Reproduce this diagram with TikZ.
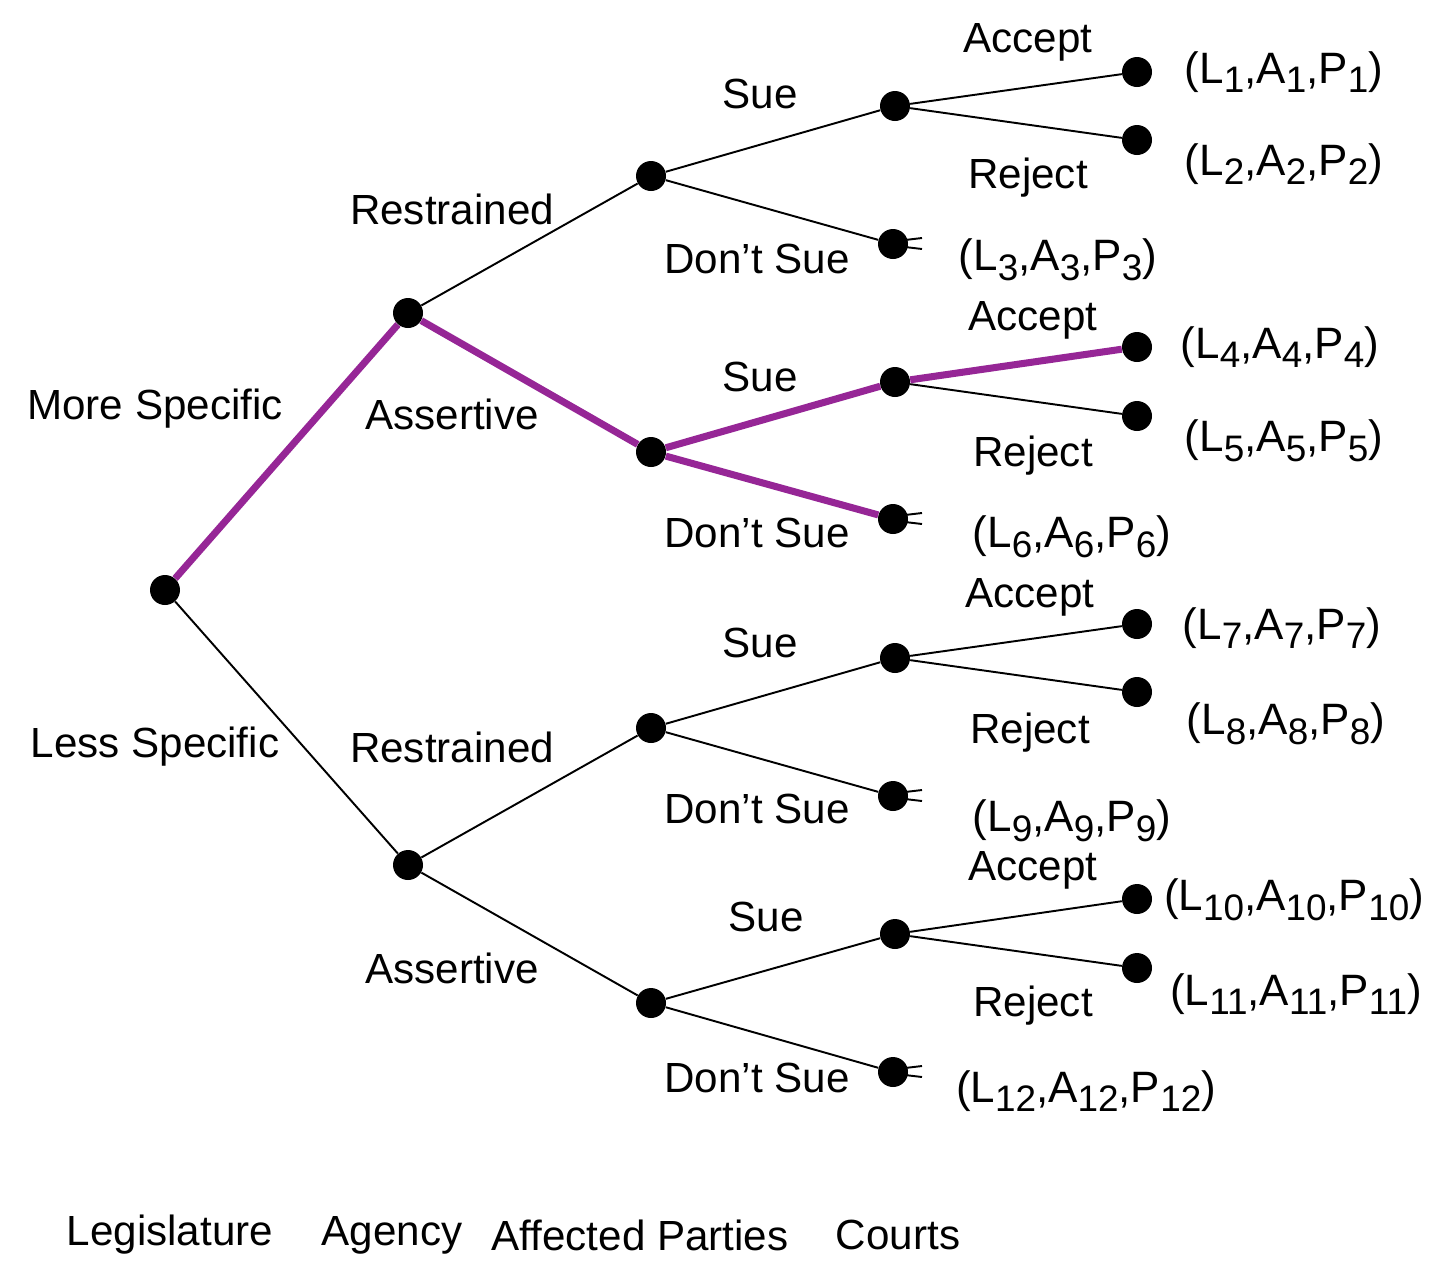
\documentclass[tikz,border=0pt]{standalone}
\usepackage{fontspec}
\setmainfont{Liberation Sans}
\usepackage{tikz}
\definecolor{pathpurple}{RGB}{150,38,150}
\newcommand{\lowsub}[1]{\raisebox{-5.5pt}{\fontsize{21}{24}\selectfont #1}}
\newcommand{\payoff}[1]{(L\lowsub{#1},A\lowsub{#1},P\lowsub{#1})}

\begin{document}
\begin{tikzpicture}[x=0.02cm,y=-0.02cm,
  every node/.style={font=\fontsize{24}{28}\selectfont},
  dot/.style={circle,fill=black,inner sep=0pt,minimum size=0.6cm},
  edge/.style={line width=1.1pt},
  chosen/.style={line width=4pt,pathpurple},
  outcome/.style={font=\fontsize{25}{28}\selectfont}]
  \useasboundingbox (0,0) rectangle (1456,1286);

  % decision nodes
  \node[dot] (root) at (165,590) {};
  \node[dot] (a1) at (408,313) {};
  \node[dot] (a2) at (408,865) {};
  \node[dot] (p1) at (651,176) {};
  \node[dot] (p2) at (651,452) {};
  \node[dot] (p3) at (651,728) {};
  \node[dot] (p4) at (651,1003) {};
  \node[dot] (c1) at (895,106) {};
  \node[dot] (c2) at (895,382) {};
  \node[dot] (c3) at (895,658) {};
  \node[dot] (c4) at (895,934) {};
  \node[dot] (d1) at (893,244) {};
  \node[dot] (d2) at (893,519) {};
  \node[dot] (d3) at (893,796) {};
  \node[dot] (d4) at (893,1072) {};
  \node[dot] (t1) at (1137,72) {};
  \node[dot] (t2) at (1137,140) {};
  \node[dot] (t4) at (1137,347) {};
  \node[dot] (t5) at (1137,416) {};
  \node[dot] (t7) at (1137,624) {};
  \node[dot] (t8) at (1137,692) {};
  \node[dot] (t10) at (1137,899) {};
  \node[dot] (t11) at (1137,968) {};

  \foreach \from/\to in {root/a2,a1/p1,a2/p3,a2/p4,p1/c1,p1/d1,p2/c2,c2/t5,
      p3/c3,p3/d3,p4/c4,p4/d4,c1/t1,c1/t2,c3/t7,c3/t8,c4/t10,c4/t11}
    \draw[edge] (\from) -- (\to);

  % equilibrium path
  \foreach \from/\to in {root/a1,a1/p2,p2/c2,c2/t4,p2/d2}
    \draw[chosen] (\from) -- (\to);

  \foreach \d in {d1,d2,d3,d4} {
    \draw[edge] (\d) ++(12,-4) -- ++(17,-2);
    \draw[edge] (\d) ++(12,3) -- ++(17,2);
  }

  % move labels
  \node (ms) at (155,409) {More Specific};
  \node (ls) at (155,747) {Less Specific};
  \node (r1) at (452,209) {Restrained};
  \node (s1) at (452,414) {Assertive};
  \node (r2) at (452,747) {Restrained};
  \node (s2) at (452,968) {Assertive};
  \node (su1) at (760,94) {Sue};
  \node (ds1) at (757,259) {Don’t Sue};
  \node (su2) at (760,377) {Sue};
  \node (ds2) at (757,533) {Don’t Sue};
  \node (su3) at (760,643) {Sue};
  \node (ds3) at (757,809) {Don’t Sue};
  \node (su4) at (766,917) {Sue};
  \node (ds4) at (757,1078) {Don’t Sue};
  \node (ac1) at (1028,42) {Accept};
  \node (rj1) at (1028,178) {Reject};
  \node (ac2) at (1033,320) {Accept};
  \node (rj2) at (1033,456) {Reject};
  \node (ac3) at (1030,597) {Accept};
  \node (rj3) at (1030,733) {Reject};
  \node (ac4) at (1033,870) {Accept};
  \node (rj4) at (1033,1006) {Reject};

  % payoffs
  \node[outcome] (o1) at (1284,72) {\payoff{1}};
  \node[outcome] (o2) at (1284,164) {\payoff{2}};
  \node[outcome] (o3) at (1058,260) {\payoff{3}};
  \node[outcome] (o4) at (1280,347) {\payoff{4}};
  \node[outcome] (o5) at (1284,441) {\payoff{5}};
  \node[outcome] (o6) at (1072,537) {\payoff{6}};
  \node[outcome] (o7) at (1282,628) {\payoff{7}};
  \node[outcome] (o8) at (1286,724) {\payoff{8}};
  \node[outcome] (o9) at (1072,821) {\payoff{9}};
  \node[outcome] (o10) at (1294,900) {\payoff{10}};
  \node[outcome] (o11) at (1296,994) {\payoff{11}};
  \node[outcome] (o12) at (1086,1091) {\payoff{12}};

  % players
  \node (leg) at (170,1235) {Legislature};
  \node (agy) at (392,1235) {Agency};
  \node (aff) at (640,1235) {Affected Parties};
  \node (crt) at (898,1235) {Courts};

\end{tikzpicture}
\end{document}
